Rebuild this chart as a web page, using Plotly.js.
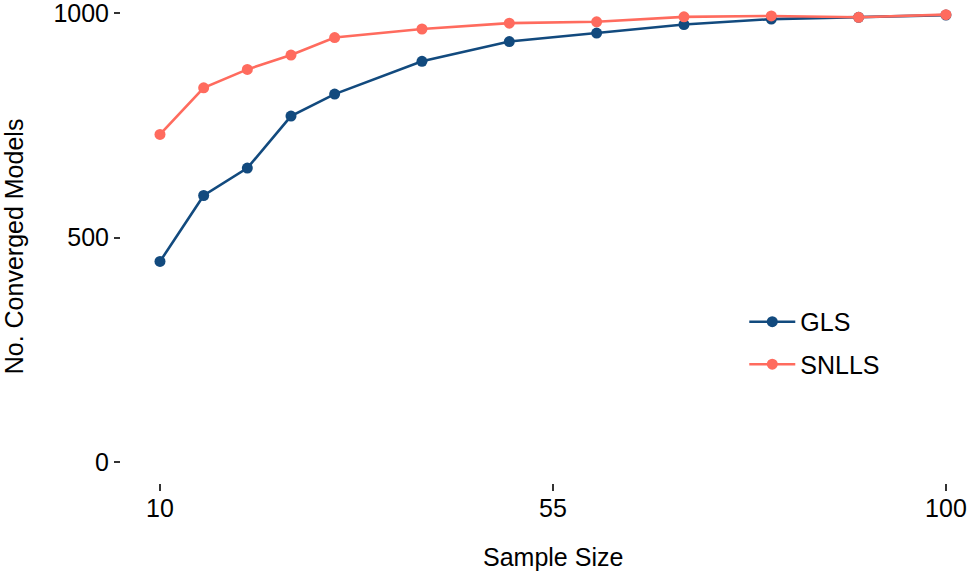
<!DOCTYPE html>
<html>
<head>
<meta charset="utf-8">
<script src="https://cdn.plot.ly/plotly-3.0.1.min.js"></script>
<style>
  html, body { margin: 0; padding: 0; background: #fff; }
  #chart { width: 969px; height: 573px; }
</style>
</head>
<body>
<div id="chart"></div>
<script>
// sample sizes on the x axis
var sampleSize = [10, 15, 20, 25, 30, 40, 50, 60, 70, 80, 90, 100];

// number of converged models (out of 1000) per estimator
var glsConverged   = [447, 594, 655, 771, 820, 893, 937, 956, 975, 987, 991, 996];
var snllsConverged = [730, 834, 875, 907, 946, 965, 978, 981, 992, 994, 991, 997];

var xTicks = [10, 55, 100];
var yTicks = [0, 500, 1000];

var blue = '#124A7E';
var salmon = '#FF6B5E';
var font = 'Liberation Sans, Arial, sans-serif';

function buildChart() {

  var gls = {
    x: sampleSize,
    y: glsConverged,
    type: 'scatter',
    mode: 'lines+markers',
    name: 'GLS',
    legendgroup: 'gls',
    line: {color: blue, width: 2.6},
    marker: {color: blue, size: 11}
  };

  var snlls = {
    x: sampleSize,
    y: snllsConverged,
    type: 'scatter',
    mode: 'lines+markers',
    name: 'SNLLS',
    legendgroup: 'snlls',
    line: {color: salmon, width: 2.6},
    marker: {color: salmon, size: 11}
  };

  var layout = {
    width: 969,
    height: 573,
    margin: {l: 121, r: 0, t: 0, b: 90},
    paper_bgcolor: '#fff',
    plot_bgcolor: '#fff',
    font: {family: font, size: 25, color: '#000'},
    xaxis: {
      range: [5.534, 102.64],
      tickvals: xTicks,
      ticktext: xTicks.map(String),
      ticks: 'outside',
      ticklen: 7,
      tickwidth: 2,
      tickcolor: '#333',
      ticklabelstandoff: -4,
      showgrid: false,
      zeroline: false,
      showline: false,
      tickfont: {size: 25, color: '#000'}
    },
    yaxis: {
      range: [-46.6, 1029.6],
      tickvals: yTicks,
      ticktext: yTicks.map(String),
      ticks: 'outside',
      ticklen: 6,
      tickwidth: 2,
      tickcolor: '#333',
      ticklabeloverflow: 'allow',
      showgrid: false,
      zeroline: false,
      showline: false,
      tickfont: {size: 25, color: '#000'}
    },
    legend: {
      x: 0.735,
      y: 0.381,
      xanchor: 'left',
      yanchor: 'top',
      bgcolor: 'rgba(0,0,0,0)',
      font: {size: 25, color: '#000'},
      tracegroupgap: 7,
      itemwidth: 46
    },
    annotations: [
      {
        text: 'Sample Size',
        xref: 'x', yref: 'paper',
        x: 55, y: -0.153,
        xanchor: 'center', yanchor: 'middle',
        showarrow: false,
        font: {size: 25, color: '#000'}
      },
      {
        text: 'No. Converged Models',
        xref: 'paper', yref: 'paper',
        x: -0.1262, y: 0.49,
        xanchor: 'center', yanchor: 'middle',
        textangle: -90,
        showarrow: false,
        font: {size: 25, color: '#000'}
      }
    ]
  };

  Plotly.newPlot('chart', [gls, snlls], layout, {displayModeBar: false, staticPlot: true});
}

buildChart();
</script>
</body>
</html>
